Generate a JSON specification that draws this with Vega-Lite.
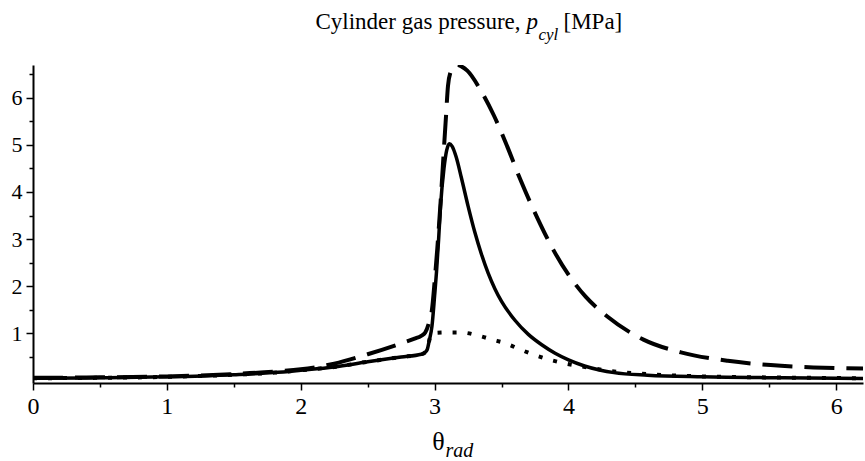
{
  "$schema": "https://vega.github.io/schema/vega-lite/v6.json",
  "width": 830,
  "height": 318,
  "autosize": {"type": "none"},
  "padding": {"left": 33, "top": 65, "right": 2, "bottom": 78},
  "background": "white",
  "config": {
    "view": {"stroke": null},
    "font": "Liberation Serif",
    "axis": {
      "grid": false,
      "domainColor": "black",
      "domainWidth": 2,
      "tickColor": "black",
      "tickWidth": 1.5,
      "labelColor": "black",
      "titleColor": "black",
      "labelFont": "Liberation Serif",
      "titleFont": "Liberation Serif",
      "titleFontWeight": "normal",
      "labelFlush": false,
      "labelOverlap": false,
      "labelBound": false
    }
  },
  "data": {
    "values": [
      {"theta": 0, "pressure": 0.05, "case": "A"},
      {"theta": 0.5, "pressure": 0.06, "case": "A"},
      {"theta": 1, "pressure": 0.08, "case": "A"},
      {"theta": 1.5, "pressure": 0.125, "case": "A"},
      {"theta": 1.8, "pressure": 0.17, "case": "A"},
      {"theta": 2, "pressure": 0.22, "case": "A"},
      {"theta": 2.25, "pressure": 0.29, "case": "A"},
      {"theta": 2.5, "pressure": 0.4, "case": "A"},
      {"theta": 2.75, "pressure": 0.5, "case": "A"},
      {"theta": 2.9, "pressure": 0.56, "case": "A"},
      {"theta": 2.925, "pressure": 0.59, "case": "A"},
      {"theta": 2.945, "pressure": 0.66, "case": "A"},
      {"theta": 2.96, "pressure": 0.85, "case": "A"},
      {"theta": 2.98, "pressure": 1.15, "case": "A"},
      {"theta": 3.0, "pressure": 1.8, "case": "A"},
      {"theta": 3.014, "pressure": 2.3, "case": "A"},
      {"theta": 3.03, "pressure": 3.0, "case": "A"},
      {"theta": 3.044, "pressure": 3.69, "case": "A"},
      {"theta": 3.07, "pressure": 4.5, "case": "A"},
      {"theta": 3.09, "pressure": 4.88, "case": "A"},
      {"theta": 3.11, "pressure": 5.02, "case": "A"},
      {"theta": 3.13, "pressure": 4.97, "case": "A"},
      {"theta": 3.16, "pressure": 4.75, "case": "A"},
      {"theta": 3.2, "pressure": 4.3, "case": "A"},
      {"theta": 3.25, "pressure": 3.7, "case": "A"},
      {"theta": 3.3, "pressure": 3.15, "case": "A"},
      {"theta": 3.35, "pressure": 2.68, "case": "A"},
      {"theta": 3.4, "pressure": 2.28, "case": "A"},
      {"theta": 3.45, "pressure": 1.95, "case": "A"},
      {"theta": 3.5, "pressure": 1.68, "case": "A"},
      {"theta": 3.6, "pressure": 1.28, "case": "A"},
      {"theta": 3.7, "pressure": 0.98, "case": "A"},
      {"theta": 3.8, "pressure": 0.76, "case": "A"},
      {"theta": 3.9, "pressure": 0.58, "case": "A"},
      {"theta": 4.0, "pressure": 0.44, "case": "A"},
      {"theta": 4.12, "pressure": 0.31, "case": "A"},
      {"theta": 4.24, "pressure": 0.22, "case": "A"},
      {"theta": 4.34, "pressure": 0.17, "case": "A"},
      {"theta": 4.59, "pressure": 0.115, "case": "A"},
      {"theta": 5.0, "pressure": 0.08, "case": "A"},
      {"theta": 5.6, "pressure": 0.06, "case": "A"},
      {"theta": 6.2, "pressure": 0.045, "case": "A"},

      {"theta": 0, "pressure": 0.06, "case": "B"},
      {"theta": 0.5, "pressure": 0.07, "case": "B"},
      {"theta": 1, "pressure": 0.09, "case": "B"},
      {"theta": 1.5, "pressure": 0.14, "case": "B"},
      {"theta": 1.8, "pressure": 0.19, "case": "B"},
      {"theta": 2, "pressure": 0.24, "case": "B"},
      {"theta": 2.25, "pressure": 0.36, "case": "B"},
      {"theta": 2.5, "pressure": 0.56, "case": "B"},
      {"theta": 2.75, "pressure": 0.79, "case": "B"},
      {"theta": 2.85, "pressure": 0.89, "case": "B"},
      {"theta": 2.9, "pressure": 0.95, "case": "B"},
      {"theta": 2.93, "pressure": 1.02, "case": "B"},
      {"theta": 2.96, "pressure": 1.25, "case": "B"},
      {"theta": 2.98, "pressure": 1.5, "case": "B"},
      {"theta": 3.0, "pressure": 2.1, "case": "B"},
      {"theta": 3.02, "pressure": 2.8, "case": "B"},
      {"theta": 3.045, "pressure": 3.8, "case": "B"},
      {"theta": 3.069, "pressure": 4.89, "case": "B"},
      {"theta": 3.085, "pressure": 5.6, "case": "B"},
      {"theta": 3.1, "pressure": 6.25, "case": "B"},
      {"theta": 3.12, "pressure": 6.55, "case": "B"},
      {"theta": 3.145, "pressure": 6.67, "case": "B"},
      {"theta": 3.17, "pressure": 6.69, "case": "B"},
      {"theta": 3.2, "pressure": 6.66, "case": "B"},
      {"theta": 3.244, "pressure": 6.57, "case": "B"},
      {"theta": 3.343, "pressure": 6.16, "case": "B"},
      {"theta": 3.443, "pressure": 5.62, "case": "B"},
      {"theta": 3.543, "pressure": 4.96, "case": "B"},
      {"theta": 3.642, "pressure": 4.25, "case": "B"},
      {"theta": 3.767, "pressure": 3.45, "case": "B"},
      {"theta": 3.891, "pressure": 2.75, "case": "B"},
      {"theta": 4.016, "pressure": 2.18, "case": "B"},
      {"theta": 4.128, "pressure": 1.78, "case": "B"},
      {"theta": 4.29, "pressure": 1.36, "case": "B"},
      {"theta": 4.56, "pressure": 0.87, "case": "B"},
      {"theta": 4.84, "pressure": 0.6, "case": "B"},
      {"theta": 5.19, "pressure": 0.42, "case": "B"},
      {"theta": 5.51, "pressure": 0.33, "case": "B"},
      {"theta": 5.83, "pressure": 0.28, "case": "B"},
      {"theta": 6.2, "pressure": 0.255, "case": "B"},

      {"theta": 0, "pressure": 0.05, "case": "C"},
      {"theta": 0.5, "pressure": 0.06, "case": "C"},
      {"theta": 1, "pressure": 0.08, "case": "C"},
      {"theta": 1.5, "pressure": 0.125, "case": "C"},
      {"theta": 1.8, "pressure": 0.17, "case": "C"},
      {"theta": 2, "pressure": 0.22, "case": "C"},
      {"theta": 2.25, "pressure": 0.29, "case": "C"},
      {"theta": 2.5, "pressure": 0.4, "case": "C"},
      {"theta": 2.75, "pressure": 0.5, "case": "C"},
      {"theta": 2.9, "pressure": 0.56, "case": "C"},
      {"theta": 2.925, "pressure": 0.59, "case": "C"},
      {"theta": 2.945, "pressure": 0.66, "case": "C"},
      {"theta": 2.96, "pressure": 0.85, "case": "C"},
      {"theta": 2.972, "pressure": 0.98, "case": "C"},
      {"theta": 3.0, "pressure": 1.01, "case": "C"},
      {"theta": 3.09, "pressure": 1.02, "case": "C"},
      {"theta": 3.2, "pressure": 1.02, "case": "C"},
      {"theta": 3.32, "pressure": 0.96, "case": "C"},
      {"theta": 3.43, "pressure": 0.87, "case": "C"},
      {"theta": 3.53, "pressure": 0.79, "case": "C"},
      {"theta": 3.64, "pressure": 0.66, "case": "C"},
      {"theta": 3.74, "pressure": 0.55, "case": "C"},
      {"theta": 3.85, "pressure": 0.45, "case": "C"},
      {"theta": 3.95, "pressure": 0.38, "case": "C"},
      {"theta": 4.1, "pressure": 0.3, "case": "C"},
      {"theta": 4.3, "pressure": 0.21, "case": "C"},
      {"theta": 4.6, "pressure": 0.135, "case": "C"},
      {"theta": 5.0, "pressure": 0.09, "case": "C"},
      {"theta": 5.6, "pressure": 0.065, "case": "C"},
      {"theta": 6.2, "pressure": 0.05, "case": "C"}
    ]
  },
  "resolve": {"axis": {"x": "independent", "y": "independent"}},
  "layer": [
    {
      "transform": [{"filter": "datum.case === 'C'"}],
      "mark": {"type": "line", "color": "black", "strokeWidth": 4, "strokeDash": [4, 11], "strokeCap": "butt", "interpolate": "monotone", "clip": true},
      "encoding": {
        "x": {
          "field": "theta", "type": "quantitative",
          "scale": {"domain": [0, 6.2], "nice": false, "zero": false},
          "axis": {
            "orient": "bottom",
            "values": [0, 0.5, 1, 1.5, 2, 2.5, 3, 3.5, 4, 4.5, 5, 5.5, 6],
            "labelExpr": "datum.value % 1 === 0 ? format(datum.value, 'd') : ''",
            "tickSize": {"condition": {"test": "datum.value % 1 !== 0", "value": 4}, "value": 7},
            "labelFont": "Liberation Serif",
            "labelFontSize": 24,
            "labelBaseline": "alphabetic",
            "labelPadding": 23.6,
            "title": "θ",
            "titleFont": "Liberation Serif",
            "titleFontSize": 26,
            "titleAngle": 0,
            "titleAlign": "left",
            "titleBaseline": "alphabetic",
            "titleX": 398.7,
            "titleY": 66.8
          }
        },
        "y": {
          "field": "pressure", "type": "quantitative",
          "scale": {"domain": [-0.05, 6.69], "nice": false, "zero": false},
          "axis": {
            "orient": "left",
            "values": [0.5, 1, 1.5, 2, 2.5, 3, 3.5, 4, 4.5, 5, 5.5, 6, 6.5],
            "labelExpr": "datum.value % 1 === 0 ? format(datum.value, 'd') : ''",
            "tickSize": {"condition": {"test": "datum.value % 1 !== 0", "value": 4}, "value": 7},
            "labelFont": "Liberation Serif",
            "labelFontSize": 22,
            "labelPadding": 4,
            "title": "Cylinder gas pressure,",
            "titleFont": "Liberation Serif",
            "titleFontSize": 23,
            "titleAngle": 0,
            "titleAlign": "left",
            "titleBaseline": "alphabetic",
            "titleX": 282,
            "titleY": -36.5
          }
        }
      }
    },
    {
      "transform": [{"filter": "datum.case === 'B'"}],
      "mark": {"type": "line", "color": "black", "strokeWidth": 4, "strokeDash": [30, 12], "interpolate": "monotone", "clip": true},
      "encoding": {
        "x": {
          "field": "theta", "type": "quantitative",
          "scale": {"domain": [0, 6.2], "nice": false, "zero": false},
          "axis": {
            "orient": "top",
            "domain": false,
            "ticks": false,
            "tickSize": 0,
            "values": [3.683, 3.772],
            "labelExpr": "datum.value < 3.7 ? 'p' : 'cyl'",
            "labelFont": "Liberation Serif",
            "labelFontStyle": "italic",
            "labelAlign": "left",
            "labelBaseline": "alphabetic",
            "labelFontSize": {"condition": {"test": "datum.value < 3.7", "value": 23}, "value": 17},
            "labelPadding": {"condition": {"test": "datum.value < 3.7", "value": 36.5}, "value": 26},
            "title": "rad",
            "titleFont": "Liberation Serif",
            "titleFontStyle": "italic",
            "titleFontSize": 20,
            "titleAngle": 0,
            "titleAlign": "left",
            "titleBaseline": "alphabetic",
            "titleX": 412,
            "titleY": 391
          }
        },
        "y": {
          "field": "pressure", "type": "quantitative",
          "scale": {"domain": [-0.05, 6.69], "nice": false, "zero": false},
          "axis": {
            "orient": "right",
            "domain": false,
            "ticks": false,
            "labels": false,
            "title": "[MPa]",
            "titleFont": "Liberation Serif",
            "titleFontSize": 23,
            "titleAngle": 0,
            "titleAlign": "left",
            "titleBaseline": "alphabetic",
            "titleX": -300,
            "titleY": -36.5
          }
        }
      }
    },
    {
      "transform": [{"filter": "datum.case === 'A'"}],
      "mark": {"type": "line", "color": "black", "strokeWidth": 3.5, "interpolate": "monotone", "clip": true},
      "encoding": {
        "x": {"field": "theta", "type": "quantitative", "scale": {"domain": [0, 6.2], "nice": false, "zero": false}, "axis": null},
        "y": {"field": "pressure", "type": "quantitative", "scale": {"domain": [-0.05, 6.69], "nice": false, "zero": false}, "axis": null}
      }
    }
  ]
}
